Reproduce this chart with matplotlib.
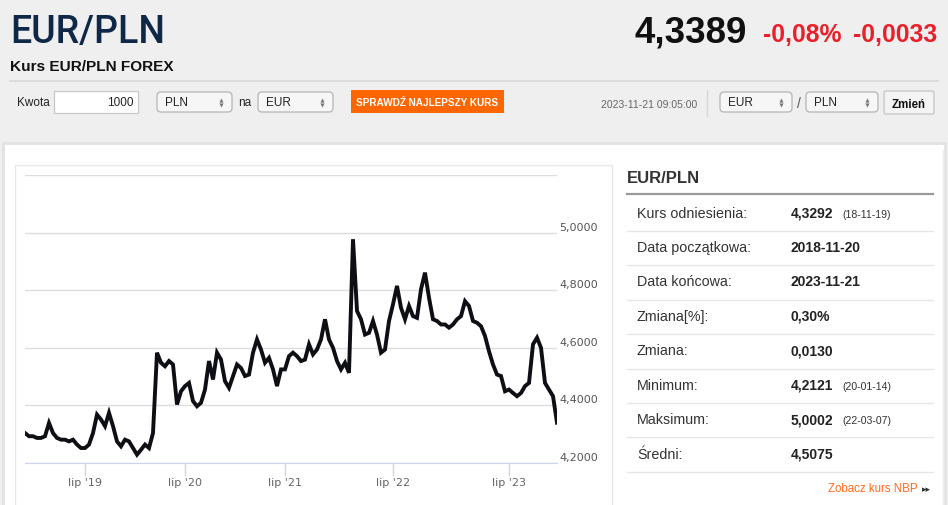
import matplotlib
matplotlib.use('Agg')
from matplotlib import pyplot
from matplotlib.patches import Rectangle, FancyBboxPatch
from matplotlib.ticker import FuncFormatter

# EUR/PLN, mid of the daily candles at even steps
rate = [4.304, 4.293, 4.293, 4.287, 4.287, 4.293, 4.339, 4.304, 4.287, 4.281,
        4.281, 4.275, 4.281, 4.264, 4.252, 4.252, 4.264, 4.304, 4.368, 4.351,
        4.328, 4.374, 4.328, 4.275, 4.258, 4.281, 4.275, 4.252, 4.229, 4.246,
        4.264, 4.252, 4.304, 4.583, 4.548, 4.536, 4.554, 4.542, 4.403, 4.449,
        4.467, 4.478, 4.415, 4.397, 4.409, 4.455, 4.554, 4.490, 4.583, 4.559,
        4.484, 4.461, 4.502, 4.542, 4.530, 4.502, 4.507, 4.583, 4.629, 4.594,
        4.548, 4.565, 4.525, 4.467, 4.525, 4.525, 4.571, 4.583, 4.571, 4.554,
        4.559, 4.612, 4.577, 4.594, 4.629, 4.699, 4.629, 4.600, 4.554, 4.525,
        4.548, 4.513, 4.977, 4.728, 4.699, 4.646, 4.652, 4.693, 4.646, 4.583,
        4.594, 4.693, 4.751, 4.815, 4.739, 4.699, 4.745, 4.710, 4.704, 4.803,
        4.861, 4.774, 4.699, 4.693, 4.681, 4.681, 4.670, 4.681, 4.699, 4.710,
        4.762, 4.745, 4.693, 4.687, 4.675, 4.641, 4.588, 4.542, 4.507, 4.502,
        4.449, 4.455, 4.443, 4.432, 4.443, 4.467, 4.478, 4.612, 4.635, 4.600,
        4.478, 4.455, 4.432, 4.340]

tick_index = [15, 40, 65, 92, 121]
tick_labels = ["lip '19", "lip '20", "lip '21", "lip '22", "lip '23"]
y_ticks = [4.2, 4.4, 4.6, 4.8, 5.0, 5.2]

stat_names = ['Kurs odniesienia:', 'Data początkowa:', 'Data końcowa:', 'Zmiana[%]:',
              'Zmiana:', 'Minimum:', 'Maksimum:', 'Średni:']
stat_values = ['4,3292', '2018-11-20', '2023-11-21', '0,30%', '0,0130', '4,2121',
               '5,0002', '4,5075']
stat_dates = ['(18-11-19)', '', '', '', '', '(20-01-14)', '(22-03-07)', '']

W, H = 948, 505
SANS = ['Liberation Sans', 'DejaVu Sans']

fig = pyplot.figure(figsize=(W / 100, H / 100), dpi=100, facecolor='#efefef')
page = fig.add_axes([0, 0, 1, 1])
page.set_xlim(0, W)
page.set_ylim(H, 0)
page.axis('off')

# header
page.text(10, 43, 'EUR/PLN', fontsize=27, family=['Roboto', 'DejaVu Sans'],
          weight='medium', color='#0f2847')
page.text(10, 71, 'Kurs EUR/PLN FOREX', fontsize=11.1, family=SANS, weight='bold', color='#111')
page.text(747, 43, '4,3389', fontsize=26.5, family=SANS, weight='bold', color='#111', ha='right')
page.text(763, 41.5, '-0,08%', fontsize=17.8, family=SANS, weight='bold', color='#e8202a')
page.text(937, 41.5, '-0,0033', fontsize=17.8, family=SANS, weight='bold', color='#e8202a',
          ha='right')
page.plot([10, 938], [81, 81], color='#d9d9d9', lw=1.2)

# form row
def select_box(x0, x1, label):
    page.add_patch(FancyBboxPatch((x0, 92), x1 - x0, 20, boxstyle='round,pad=0,rounding_size=4',
                                  facecolor='#f6f6f6', edgecolor='#b5b5b5', lw=0.9))
    page.text(x0 + 8, 106.5, label, fontsize=8.5, family=SANS, color='#222')
    page.plot([x1 - 11], [99.5], marker='^', ms=3, color='#777', mew=0)
    page.plot([x1 - 11], [104.5], marker='v', ms=3, color='#777', mew=0)

page.text(17, 106.5, 'Kwota', fontsize=8.5, family=SANS, color='#222')
page.add_patch(Rectangle((54, 91), 84, 22, facecolor='white', edgecolor='#c8c8c8', lw=0.9))
page.text(134, 106.5, '1000', fontsize=8.5, family=SANS, color='#222', ha='right')
select_box(157, 232, 'PLN')
page.text(238, 106.5, 'na', fontsize=8.5, family=SANS, color='#222')
select_box(258, 333, 'EUR')
page.add_patch(Rectangle((351, 90), 153, 23, facecolor='#ff6600', edgecolor='none'))
page.text(427.5, 106, 'SPRAWDŹ NAJLEPSZY KURS', fontsize=7.2, family=SANS, weight='bold',
          color='white', ha='center')
page.text(697, 108, '2023-11-21 09:05:00', fontsize=7.5, family=SANS, color='#666', ha='right')
page.plot([707, 707], [90, 116], color='#d6d6d6', lw=1)
select_box(720, 792, 'EUR')
page.text(797, 108, '/', fontsize=10, family=SANS, color='#555')
select_box(806, 878, 'PLN')
page.add_patch(FancyBboxPatch((884, 91), 50, 23, boxstyle='round,pad=0,rounding_size=2',
                              facecolor='#f4f4f4', edgecolor='#c4c4c4', lw=0.9))
page.text(909, 108, 'Zmień', fontsize=8.3, family=SANS, weight='bold', color='#111', ha='center')

# main panel
page.add_patch(Rectangle((3, 143), 942, 370, facecolor='white', edgecolor='#e2e2e2', lw=2))
page.add_patch(Rectangle((15, 165), 597, 345, facecolor='white', edgecolor='#e8e8e8', lw=1))
page.plot([943, 943], [150, 505], color='#ececec', lw=1)

# statistics table
page.text(627, 183, 'EUR/PLN', fontsize=12, family=SANS, weight='bold', color='#333')
page.plot([627, 933], [193.5, 193.5], color='#9a9a9a', lw=1.6)
for i, name in enumerate(stat_names):
    base = 217.6 + 34.43 * i
    page.text(637, base, name, fontsize=10.3, family=SANS, color='#333')
    page.text(791, base, stat_values[i], fontsize=10, family=SANS, weight='bold', color='#222')
    if stat_dates[i]:
        page.text(842, base, stat_dates[i], fontsize=7.6, family=SANS, color='#333')
    page.plot([627, 933], [base + 13.2, base + 13.2], color='#e6e6e6', lw=1)
page.text(918, 492.5, 'Zobacz kurs NBP', fontsize=8.3, family=SANS, color='#ff6a1a', ha='right')
page.text(922, 492, '▸▸', fontsize=6.5, family=['DejaVu Sans'], color='#333')

# price chart
chart = fig.add_axes([25 / W, 1 - 463 / H, 532 / W, 288 / H])
chart.set_facecolor('none')
chart.plot(range(len(rate)), rate, color='#0d0f14', lw=2.8, solid_joinstyle='miter')
chart.set_xlim(0, len(rate) - 1)
chart.set_ylim(4.2, 5.2)
chart.set_yticks(y_ticks)
chart.yaxis.set_major_formatter(FuncFormatter(
    lambda v, _: '' if v > 5.1 else f'{v:.4f}'.replace('.', ',')))
chart.yaxis.tick_right()
chart.tick_params(axis='y', length=0, pad=1.5, labelsize=8, labelcolor='#555')
for t in chart.yaxis.get_major_ticks():
    t.label2.set_va('bottom')
chart.grid(axis='y', color='#dedede', lw=1)
chart.set_axisbelow(True)
chart.set_xticks(tick_index, tick_labels)
chart.tick_params(axis='x', length=9, width=1, color='#ccd6eb', labelcolor='#666',
                  labelsize=8, pad=2)
for side in ['top', 'left', 'right']:
    chart.spines[side].set_visible(False)
chart.spines['bottom'].set_color('#ccd6eb')

fig.savefig('out.png', dpi=100, facecolor=fig.get_facecolor())
